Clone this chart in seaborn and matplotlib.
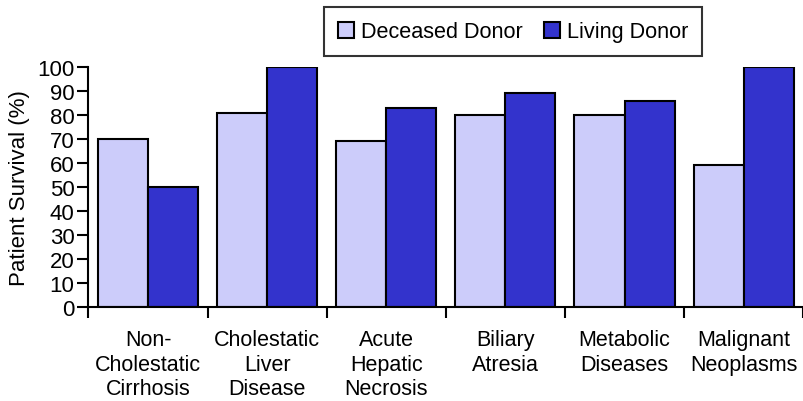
import matplotlib
matplotlib.use("Agg")
import matplotlib.pyplot as plt
import seaborn as sns
import pandas as pd

categories = ["Non-\nCholestatic\nCirrhosis", "Cholestatic\nLiver\nDisease",
              "Acute\nHepatic\nNecrosis", "Biliary\nAtresia",
              "Metabolic\nDiseases", "Malignant\nNeoplasms"]
deceased = [70, 81, 69, 80, 80, 59]
living = [50, 100, 83, 89, 86, 100]
series = ["Deceased Donor", "Living Donor"]
colors = ["#ccccfa", "#3333cc"]

df = pd.DataFrame({
    "category": categories * 2,
    "survival": deceased + living,
    "donor": [series[0]] * len(categories) + [series[1]] * len(categories),
})

sns.set_style("ticks")
plt.rcParams["font.family"] = ["Liberation Sans", "DejaVu Sans"]
plt.rcParams.update({"text.color": "black", "axes.labelcolor": "black",
                     "xtick.color": "black", "ytick.color": "black"})

fig = plt.figure(figsize=(8.04, 4.02), dpi=100)
ax = fig.add_axes([0.110, 0.234, 0.889, 0.597])

sns.barplot(data=df, x="category", y="survival", hue="donor", hue_order=series,
            palette=colors, width=0.84, edgecolor="black", linewidth=1.5,
            saturation=1, ax=ax)

ax.set_ylim(0, 100)
ax.set_xlim(-0.5, len(categories) - 0.5)
ax.set_yticks(range(0, 101, 10))
ax.tick_params(axis="y", labelsize=16, length=8, width=1.5, direction="out", pad=2)
ax.set_xticks(range(len(categories)))
ax.set_xticklabels(categories, fontsize=15.5, linespacing=1.22)
ax.tick_params(axis="x", length=0, pad=16)
ax.set_xticks([i - 0.5 for i in range(len(categories) + 1)], minor=True)
ax.tick_params(axis="x", which="minor", length=8, width=1.5, direction="out")
ax.set_xlabel("")
ax.set_ylabel("Patient Survival (%)", fontsize=16, labelpad=5)

for side in ["top", "right"]:
    ax.spines[side].set_visible(False)
for side in ["left", "bottom"]:
    ax.spines[side].set_linewidth(1.5)
    ax.spines[side].set_color("black")

handles, labels = ax.get_legend_handles_labels()
ax.legend(handles, labels, loc="upper center", bbox_to_anchor=(0.638, 0.98),
          bbox_transform=fig.transFigure, ncol=2, frameon=True, fancybox=False,
          edgecolor="black", fontsize=15.6, handlelength=0.75, handleheight=0.75,
          handletextpad=0.3, columnspacing=1.0, borderpad=0.65, borderaxespad=0)
ax.get_legend().get_frame().set_linewidth(1.5)

fig.savefig("out.png", dpi=100)
